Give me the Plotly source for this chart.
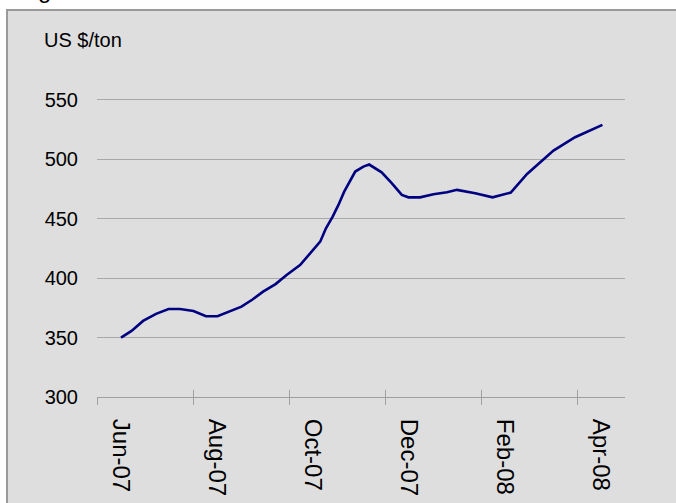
import plotly.graph_objects as go

# Data (x = months since Jun-07, fractional; y = US$/ton)
month_pos = [0.0, 0.22, 0.46, 0.73, 0.99, 1.23, 1.51, 1.77, 2.01, 2.26, 2.51, 2.74,
             2.96, 3.22, 3.45, 3.73, 4.01, 4.15, 4.27, 4.41, 4.53, 4.65, 4.88, 5.05,
             5.17, 5.43, 5.64, 5.85, 5.99, 6.23, 6.51, 6.79, 7.0, 7.38, 7.74, 8.12,
             8.46, 8.73, 9.01, 9.46, 10.03]
price = [350, 355.6, 364, 370, 374, 374, 372.4, 368, 368, 371.8, 376, 382,
         388.6, 395, 402.7, 411, 424, 430.7, 442, 451.8, 461.6, 472.8, 489.7, 493.9,
         495.6, 489, 480, 470, 468, 468, 470.6, 472.3, 474.3, 471.5, 468, 472,
         487.7, 497.2, 507.3, 518.6, 529]

tick_label_pos = [0, 2, 4, 6, 8, 10]
tick_labels = ["Jun-07", "Aug-07", "Oct-07", "Dec-07", "Feb-08", "Apr-08"]
tick_mark_pos = [-0.5, 1.5, 3.5, 5.5, 7.5, 9.5]
y_ticks = [300, 350, 400, 450, 500, 550]

W, H = 676, 503
L, R, T, B = 97, 51, 88, 106
pw, ph = W - L - R, H - T - B

def px_x(p):
    return (p - L) / pw

def px_y(p):
    return (H - B - p) / ph

FONT = "Liberation Sans, Arial, sans-serif"
AXC = "#a0a0a0"

fig = go.Figure()
fig.add_trace(go.Scatter(x=month_pos, y=price, mode="lines",
                         line=dict(color="#000080", width=2.6),
                         showlegend=False, hoverinfo="skip"))
fig.add_trace(go.Scatter(x=[None], y=[None], xaxis="x2", showlegend=False, hoverinfo="skip"))
fig.add_trace(go.Scatter(x=[None], y=[None], xaxis="x3", showlegend=False, hoverinfo="skip"))

xr = [-0.5, 10.5]
fig.update_layout(
    width=W, height=H,
    margin=dict(l=L, r=R, t=T, b=B, pad=0, autoexpand=False),
    paper_bgcolor="white",
    plot_bgcolor="rgba(0,0,0,0)",
    font=dict(family=FONT, color="black"),
    xaxis=dict(range=xr, tickvals=tick_label_pos, ticktext=tick_labels, tickangle=90,
               ticks="", showline=True, linecolor=AXC, linewidth=1, showgrid=False,
               zeroline=False, tickfont=dict(size=24), ticklabelstandoff=16,
               automargin=False, fixedrange=True),
    xaxis2=dict(range=xr, overlaying="x", anchor="y", side="bottom", tickvals=tick_mark_pos,
                ticks="outside", ticklen=7, tickcolor=AXC, tickwidth=1, automargin=False,
                showticklabels=False, showline=False, showgrid=False, zeroline=False),
    xaxis3=dict(range=xr, overlaying="x", anchor="y", side="bottom", tickvals=tick_mark_pos,
                ticks="inside", ticklen=7, tickcolor=AXC, tickwidth=1, automargin=False,
                showticklabels=False, showline=False, showgrid=False, zeroline=False),
    yaxis=dict(range=[300, 560], tickvals=y_ticks, ticks="", showgrid=True,
               gridcolor="#a8a8a8", gridwidth=1, zeroline=False, showline=False,
               tickfont=dict(size=20), ticklabelstandoff=18, automargin=False),
    shapes=[dict(type="rect", xref="paper", yref="paper", layer="below",
                 x0=px_x(7), x1=px_x(720), y0=px_y(540), y1=px_y(10),
                 fillcolor="#dedede", line=dict(color="#999999", width=2))],
    annotations=[
        dict(text="US $/ton", xref="paper", yref="paper", x=px_x(42), y=px_y(40),
             xanchor="left", yanchor="middle", showarrow=False, font=dict(size=20)),
        dict(text="Average Bunker Prices", xref="x", yref="y", x=10.56, y=372,
             xanchor="right", yanchor="middle", showarrow=False, font=dict(size=20)),
        dict(text="Figure", xref="paper", yref="paper", x=px_x(16), y=px_y(5),
             xanchor="left", yanchor="bottom", showarrow=False,
             font=dict(size=24, family=FONT)),
    ],
)

fig.write_html("out.html")
